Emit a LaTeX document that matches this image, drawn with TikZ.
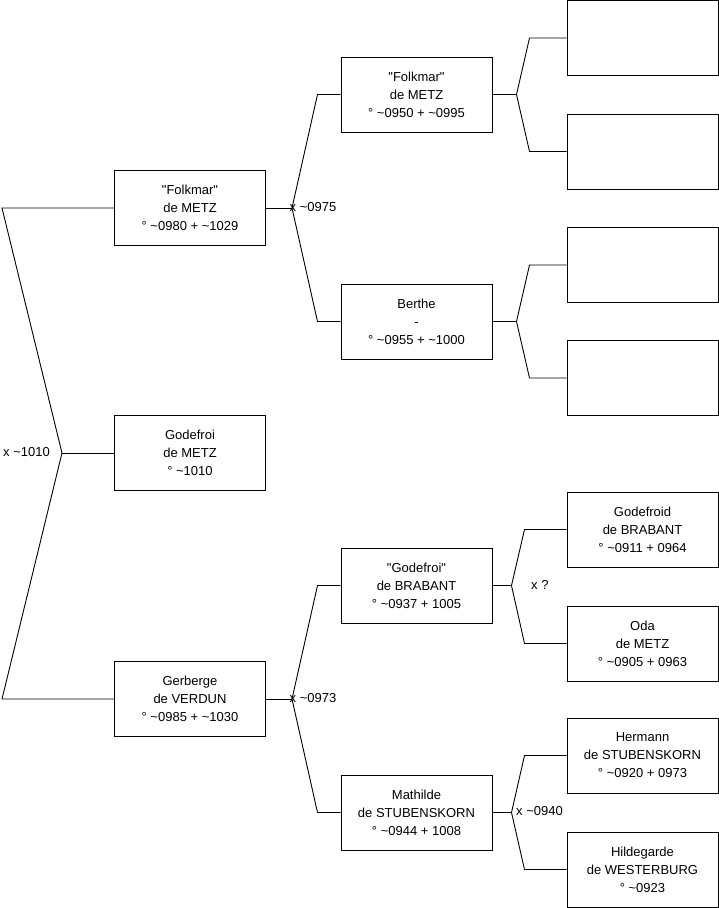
\documentclass[tikz,border=0pt]{standalone}
\usepackage{fontspec}
\setmainfont{Liberation Sans}[Ligatures=TeXOff]
\usetikzlibrary{calc}
\newcommand{\tld}{\textasciitilde}
\begin{document}
\begin{tikzpicture}[x=1pt,y=-1pt,
  person/.style={draw, line width=1pt, minimum width=151pt, minimum height=75pt, inner sep=0pt, align=center, font=\fontsize{13}{18}\selectfont},
  link/.style={draw, line width=0.9pt},
  lbl/.style={anchor=west, inner sep=0pt, font=\fontsize{13}{18}\selectfont}]
\useasboundingbox (0,0) rectangle (719,908);
% level 1
\node[person] (f1) at (190,208) {"Folkmar"\\de METZ\\° \tld0980 + \tld1029};
\node[person] (gm) at (190,453) {Godefroi\\de METZ\\° \tld1010};
\node[person] (gv) at (190,699) {Gerberge\\de VERDUN\\° \tld0985 + \tld1030};
% level 2
\node[person] (f2) at (416.5,94.5) {"Folkmar"\\de METZ\\° \tld0950 + \tld0995};
\node[person] (be) at (416.5,321.5) {Berthe\\-\\° \tld0955 + \tld1000};
\node[person] (gb) at (416.5,585.5) {"Godefroi"\\de BRABANT\\° \tld0937 + 1005};
\node[person] (ms) at (416.5,812.5) {Mathilde\\de STUBENSKORN\\° \tld0944 + 1008};
% level 3
\node[person] (a1) at (642.5,38) {};
\node[person] (a2) at (642.5,151.5) {};
\node[person] (a3) at (642.5,265) {};
\node[person] (a4) at (642.5,378) {};
\node[person] (gd) at (642.5,529.5) {Godefroid\\de BRABANT\\° \tld0911 + 0964};
\node[person] (od) at (642.5,643.5) {Oda\\de METZ\\° \tld0905 + 0963};
\node[person] (hs) at (642.5,755.5) {Hermann\\de STUBENSKORN\\° \tld0920 + 0973};
\node[person] (hw) at (642.5,869.5) {Hildegarde\\de WESTERBURG\\° \tld0923};
% root connector
\draw[link] (gm.west) -- ++(-52,0) coordinate (r0);
\draw[link] (r0) -- ($(f1.west)+(-112,0)$) -- (f1.west);
\draw[link] (r0) -- ($(gv.west)+(-112,0)$) -- (gv.west);
\node[lbl] (l0) at (3,452) {x \tld1010};
% level 1 -> 2
\draw[link] (f1.east) -- ++(26,0) coordinate (v1);
\draw[link] (v1) -- ($(f2.west)+(-23,0)$) -- (f2.west);
\draw[link] (v1) -- ($(be.west)+(-23,0)$) -- (be.west);
\node[lbl] (l1) at (289.5,207.5) {x \tld0975};
\draw[link] (gv.east) -- ++(26,0) coordinate (v2);
\draw[link] (v2) -- ($(gb.west)+(-23,0)$) -- (gb.west);
\draw[link] (v2) -- ($(ms.west)+(-23,0)$) -- (ms.west);
\node[lbl] (l2) at (289.5,698) {x \tld0973};
% level 2 -> 3
\draw[link] (f2.east) -- ++(24,0) coordinate (v3);
\draw[link] (v3) -- ($(a1.west)+(-37,0)$) -- (a1.west);
\draw[link] (v3) -- ($(a2.west)+(-37,0)$) -- (a2.west);
\draw[link] (be.east) -- ++(24,0) coordinate (v4);
\draw[link] (v4) -- ($(a3.west)+(-37,0)$) -- (a3.west);
\draw[link] (v4) -- ($(a4.west)+(-37,0)$) -- (a4.west);
\draw[link] (gb.east) -- ++(19,0) coordinate (v5);
\draw[link] (v5) -- ($(gd.west)+(-42,0)$) -- (gd.west);
\draw[link] (v5) -- ($(od.west)+(-42,0)$) -- (od.west);
\node[lbl] (l3) at (531,584.5) {x ?};
\draw[link] (ms.east) -- ++(19,0) coordinate (v6);
\draw[link] (v6) -- ($(hs.west)+(-42,0)$) -- (hs.west);
\draw[link] (v6) -- ($(hw.west)+(-42,0)$) -- (hw.west);
\node[lbl] (l4) at (516,811.5) {x \tld0940};
\end{tikzpicture}
\end{document}
